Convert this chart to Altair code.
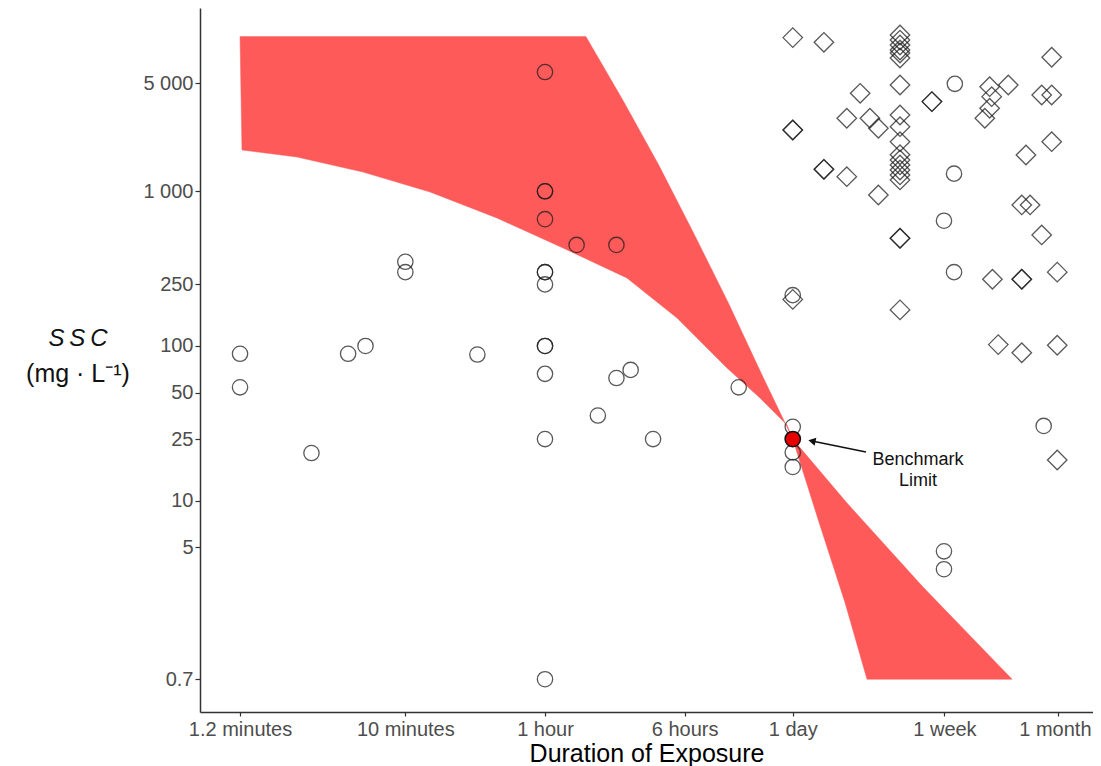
import altair as alt
import pandas as pd

# ---- axis ticks (x in hours) ----
x_tick_hours = [0.02, 1 / 6, 1, 6, 24, 168, 720]
x_tick_labels = ["1.2 minutes", "10 minutes", "1 hour", "6 hours", "1 day", "1 week", "1 month"]
y_tick_values = [0.7, 5, 10, 25, 50, 100, 250, 1000, 5000]
y_tick_labels = ["0.7", "5", "10", "25", "50", "100", "250", "1 000", "5 000"]

# ---- red severity band outline (hours, mg/L), traced clockwise ----
band_hours = [0.02, 1.69, 2.75, 4.3, 6.68, 10.46, 16.18, 24, 33.3, 47.0, 62.2, 400,
              127.6, 48.1, 24, 22.3, 15.77, 10.33, 5.44, 2.86, 1.26, 0.54, 0.229, 0.0968,
              0.0415, 0.0205, 0.02]
band_ssc = [10000, 10000, 3780, 1479, 545, 192, 64.9, 25, 7.5, 2.18, 0.7, 0.7,
            2.76, 9.65, 25, 30.8, 46.1, 72.0, 151.6, 275, 430, 672, 989, 1332,
            1666, 1849, 10000]

# ---- open circles ----
circle_hours = [0.02, 0.02, 0.05, 0.08, 0.1, 0.1667, 0.1667, 0.42,
                1, 1, 1, 1, 1.5, 2.5, 1, 1, 1, 1, 1, 1, 1, 1,
                1.97, 2.5, 3.0, 4.0, 12,
                24, 24, 24, 24,
                192, 190, 167, 190, 167, 167, 600]
circle_ssc = [89, 54, 20.3, 89, 100, 350, 300, 88,
              5900, 1000, 1000, 660, 450, 450, 300, 300, 250, 100, 100, 66, 25, 0.7,
              35.5, 62, 70, 25, 54,
              213, 30, 20.5, 16.5,
              4950, 1300, 645, 300, 4.7, 3.6, 30.4]

# ---- open diamonds ----
diamond_hours = [24, 35.8, 95, 95, 95, 95, 95, 95, 665,
                 95, 57, 143, 143, 300, 381, 308, 300, 282, 585, 665,
                 24, 24, 48, 64.6, 72,
                 95, 95, 95, 95, 95, 95, 95, 95, 95,
                 35.8, 35.8, 48, 72, 665, 478, 453, 504, 585, 95, 95,
                 24, 311, 453, 453, 714, 95, 335, 453, 714, 714]
diamond_ssc = [9850, 9185, 10245, 9500, 8825, 8190, 7830, 7270, 7350,
               4865, 4300, 3800, 3800, 4745, 4865, 4090, 3440, 2965, 4194, 4194,
               2490, 2490, 2965, 2965, 2555,
               3114, 2616, 2092, 1722, 1594, 1480, 1373, 1275, 1184,
               1387, 1387, 1243, 946, 2092, 1717, 816, 816, 522, 497, 497,
               200, 270, 270, 270, 300, 171, 102, 90.4, 101, 18.3]

# ---- benchmark point and annotation ----
benchmark_hours = [24]
benchmark_ssc = [25]
arrow_hours = [30.7, 61.4]
arrow_ssc = [24.3, 20.6]
note_hours = [119.7, 119.7]
note_ssc = [18.3, 13.4]
note_text = ["Benchmark", "Limit"]

FONT = "Liberation Sans"


def label_expr(values, labels):
    parts = [f"abs(datum.value - {v!r}) < {abs(v) * 1e-6!r} ? '{l}'" for v, l in zip(values, labels)]
    return " : ".join(parts) + " : ''"


xscale = alt.Scale(type="log", domain=[0.011967, 1129.6], nice=False)
yscale = alt.Scale(type="log", domain=[0.4298, 15310], nice=False)

xaxis = alt.Axis(values=x_tick_hours, labelExpr=label_expr(x_tick_hours, x_tick_labels),
                 title="Duration of Exposure", grid=False, tickSize=4, labelPadding=3,
                 labelFontSize=20, labelColor="#4d4d4d", labelFont=FONT,
                 labelOffset={"condition": {"test": "datum.value > 500", "value": -3}, "value": 0},
                 titleFontSize=25, titleFont=FONT, titleFontWeight="normal", titleColor="#000000",
                 titlePadding=2, domainColor="#333333", domainWidth=1.5,
                 tickColor="#333333", tickWidth=1.2, labelFlush=False, labelOverlap=False)
yaxis = alt.Axis(values=y_tick_values, labelExpr=label_expr(y_tick_values, y_tick_labels),
                 title=None, grid=False, tickSize=5, labelPadding=2,
                 labelFontSize=20, labelColor="#4d4d4d", labelFont=FONT,
                 domainColor="#333333", domainWidth=1.5, tickColor="#333333", tickWidth=1.2,
                 labelOverlap=False)

band_df = pd.DataFrame({"hours": band_hours, "ssc": band_ssc, "i": list(range(len(band_hours)))})
circle_df = pd.DataFrame({"hours": circle_hours, "ssc": circle_ssc})
diamond_df = pd.DataFrame({"hours": diamond_hours, "ssc": diamond_ssc})
bench_df = pd.DataFrame({"hours": benchmark_hours, "ssc": benchmark_ssc})
arrow_df = pd.DataFrame({"hours": [arrow_hours[0]], "ssc": [arrow_ssc[0]],
                         "hours2": [arrow_hours[1]], "ssc2": [arrow_ssc[1]]})
note_df = pd.DataFrame({"hours": note_hours, "ssc": note_ssc, "t": note_text})

band = alt.Chart(band_df).mark_line(
    fill="#FF5A5A", stroke="#FF5A5A", strokeWidth=0.5, interpolate="linear"
).encode(
    x=alt.X("hours:Q", scale=xscale, axis=xaxis),
    y=alt.Y("ssc:Q", scale=yscale, axis=yaxis),
    order=alt.Order("i:Q"),
)

circles = alt.Chart(circle_df).mark_point(
    shape="circle", size=235, filled=False, color="#1a1a1a", strokeWidth=1.3, opacity=0.72
).encode(x=alt.X("hours:Q", scale=xscale), y=alt.Y("ssc:Q", scale=yscale))

diamonds = alt.Chart(diamond_df).mark_point(
    shape="diamond", size=380, filled=False, color="#1a1a1a", strokeWidth=1.3, opacity=0.72
).encode(x=alt.X("hours:Q", scale=xscale), y=alt.Y("ssc:Q", scale=yscale))

bench = alt.Chart(bench_df).mark_point(
    shape="circle", size=235, filled=True, fill="#E60000", stroke="#111111", strokeWidth=1.5, opacity=1
).encode(x=alt.X("hours:Q", scale=xscale), y=alt.Y("ssc:Q", scale=yscale))

arrow_line = alt.Chart(arrow_df).mark_rule(color="#111111", strokeWidth=1.5).encode(
    x=alt.X("hours:Q", scale=xscale), y=alt.Y("ssc:Q", scale=yscale),
    x2="hours2:Q", y2="ssc2:Q")

arrow_head = alt.Chart(arrow_df).mark_point(
    shape="triangle-left", size=70, filled=True, color="#111111", angle=12, opacity=1
).encode(x=alt.X("hours:Q", scale=xscale), y=alt.Y("ssc:Q", scale=yscale))

notes = alt.Chart(note_df).mark_text(
    font=FONT, fontSize=18, color="#111111", align="center", baseline="middle"
).encode(x=alt.X("hours:Q", scale=xscale), y=alt.Y("ssc:Q", scale=yscale), text="t:N")

ytitle1 = alt.Chart(pd.DataFrame({"t": ["S\u2009S\u2009C"]})).mark_text(
    font=FONT, fontSize=24, fontStyle="italic", color="#111111", align="center", baseline="middle"
).encode(x=alt.value(-122), y=alt.value(331), text="t:N")

ytitle2 = alt.Chart(pd.DataFrame({"t": ["(mg \u00b7 L\u207b\u00b9)"]})).mark_text(
    font=FONT, fontSize=25, color="#111111", align="center", baseline="middle"
).encode(x=alt.value(-122), y=alt.value(366), text="t:N")

chart = alt.layer(band, circles, diamonds, arrow_line, arrow_head, bench, notes, ytitle1, ytitle2).properties(
    width=893, height=704,
    padding={"left": 192, "top": 0, "right": 0, "bottom": 54},
    autosize=alt.AutoSizeParams(type="none"),
    background="white",
).configure_view(stroke=None)

chart.save("out.html", embed_options={"renderer": "svg", "actions": False})
